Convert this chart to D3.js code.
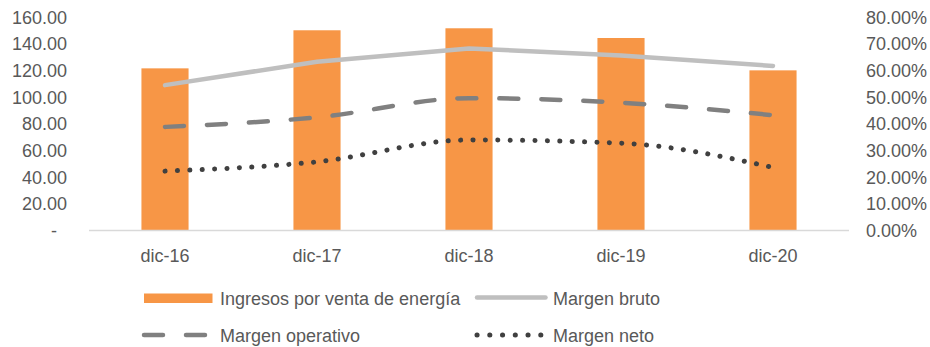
<!DOCTYPE html>
<html><head><meta charset="utf-8">
<script src="https://cdn.jsdelivr.net/npm/d3@7/dist/d3.min.js"></script>
<style>body{margin:0;background:#fff}svg{display:block}text{font-family:"Liberation Sans",Arial,sans-serif;fill:#595959}</style>
</head><body><svg id="c" width="930" height="347"></svg>
<script>
const categories = ["dic-16","dic-17","dic-18","dic-19","dic-20"];
const ingresos = [121.8, 150.4, 151.9, 144.6, 120.3];
const margenBruto = [0.546, 0.634, 0.684, 0.657, 0.618];
const margenOperativo = [0.389, 0.425, 0.497, 0.480, 0.433];
const margenNeto = [0.223, 0.258, 0.340, 0.328, 0.237];
const leftTicks = [0,20,40,60,80,100,120,140,160];
const rightTicks = [0,0.1,0.2,0.3,0.4,0.5,0.6,0.7,0.8];
const legendLabels = ["Ingresos por venta de energía","Margen bruto","Margen operativo","Margen neto"];

const svg = d3.select("#c");
const x = d3.scaleBand().domain(categories).range([89,849]).paddingInner(0.69).paddingOuter(0.345);
const yL = d3.scaleLinear().domain([0,160]).range([230.5,17.5]);
const yR = d3.scaleLinear().domain([0,0.8]).range([230.5,17.5]);
const cx = c => x(c) + x.bandwidth()/2;

// bars
svg.append("g").selectAll("rect").data(ingresos).join("rect")
  .attr("x",(d,i)=>x(categories[i])).attr("width",x.bandwidth())
  .attr("y",d=>yL(d)).attr("height",d=>yL(0)-yL(d)).attr("fill","#F79646");

// axis line
svg.append("line").attr("x1",89).attr("x2",849).attr("y1",yL(0)).attr("y2",yL(0))
  .attr("stroke","#D9D9D9").attr("stroke-width",1.5);

// left axis
const fmtL = v => v===0 ? "-" : d3.format(".2f")(v);
const gL = svg.append("g").attr("transform","translate(67,0)")
  .call(d3.axisLeft(yL).tickValues(leftTicks).tickFormat(fmtL).tickSize(0).tickPadding(0));
gL.select(".domain").remove();
gL.selectAll("text").attr("font-size",18).style("font-family",'"Liberation Sans",Arial,sans-serif').attr("fill","#595959")
  .attr("dx",d=>d===0?-10:0);

// right axis
const gR = svg.append("g").attr("transform","translate(866,0)")
  .call(d3.axisRight(yR).tickValues(rightTicks).tickFormat(d3.format(".2%")).tickSize(0).tickPadding(0));
gR.select(".domain").remove();
gR.selectAll("text").attr("font-size",18).style("font-family",'"Liberation Sans",Arial,sans-serif').attr("fill","#595959");

// x axis labels
const gX = svg.append("g").attr("transform","translate(0,230.5)")
  .call(d3.axisBottom(x).tickSize(0).tickPadding(0));
gX.select(".domain").remove();
gX.selectAll("text").attr("font-size",18).attr("dy",null).attr("y",31.5)
  .style("font-family",'"Liberation Sans",Arial,sans-serif').attr("fill","#595959");

// lines
const mk = (vals, curve) => d3.line().x((d,i)=>cx(categories[i])).y(d=>yR(d)).curve(curve)(vals);
svg.append("path").attr("d",mk(margenBruto,d3.curveLinear)).attr("fill","none")
  .attr("stroke","#BFBFBF").attr("stroke-width",4.5).attr("stroke-linecap","round").attr("stroke-linejoin","round");
svg.append("path").attr("d",mk(margenOperativo,d3.curveMonotoneX)).attr("fill","none")
  .attr("stroke","#808080").attr("stroke-width",4.5).attr("stroke-linecap","round")
  .attr("stroke-dasharray","19,23");
svg.append("path").attr("d",mk(margenNeto,d3.curveMonotoneX)).attr("fill","none")
  .attr("stroke","#404040").attr("stroke-width",5).attr("stroke-linecap","round")
  .attr("stroke-dasharray","0.1,12.3");

// legend
const lg = svg.append("g");
lg.append("rect").attr("x",144).attr("y",293.5).attr("width",68.5).attr("height",9.5).attr("fill","#F79646");
lg.append("line").attr("x1",477).attr("x2",545.5).attr("y1",297.5).attr("y2",297.5)
  .attr("stroke","#BFBFBF").attr("stroke-width",4.5).attr("stroke-linecap","round");
lg.append("line").attr("x1",144).attr("x2",212).attr("y1",335).attr("y2",335)
  .attr("stroke","#808080").attr("stroke-width",4.5).attr("stroke-linecap","round").attr("stroke-dasharray","19,23");
lg.append("line").attr("x1",477).attr("x2",541).attr("y1",335).attr("y2",335)
  .attr("stroke","#404040").attr("stroke-width",5).attr("stroke-linecap","round").attr("stroke-dasharray","0.1,12.65");
const lpos = [[220,304.5],[553,304.5],[220,341.5],[553,341.5]];
lg.selectAll("text").data(legendLabels).join("text")
  .attr("x",(d,i)=>lpos[i][0]).attr("y",(d,i)=>lpos[i][1]).attr("font-size",18).text(d=>d);
</script></body></html>
